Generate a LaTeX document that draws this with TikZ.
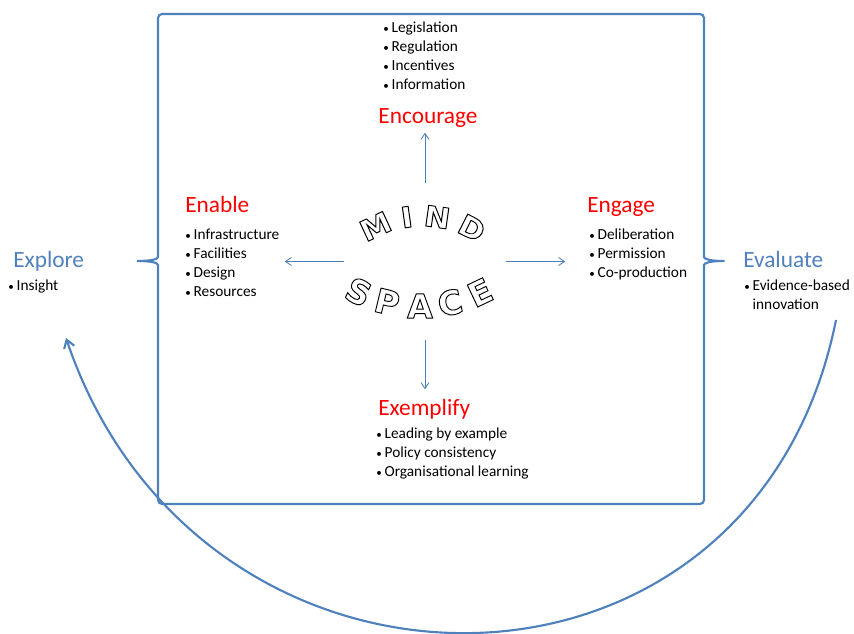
\documentclass[tikz,border=0pt]{standalone}
\usepackage{fontspec}
\setmainfont{Carlito}
\newfontfamily\wordart{DejaVu Sans}
\usetikzlibrary{arrows.meta}
\definecolor{accentblue}{HTML}{4F81BD}
\definecolor{arrowblue}{HTML}{4A7EBB}
\newcommand{\hollow}[1]{\special{pdf:literal direct 1 Tr 0.7 w}#1\special{pdf:literal direct 0 Tr}}
\newcommand{\bul}{\makebox[6.3pt][l]{\raisebox{0.6pt}{\scalebox{0.72}{\textbullet}}}}
\begin{document}
\begin{tikzpicture}[
  x=0.75pt, y=-0.75pt,
  heading/.style={anchor=base west, inner sep=0pt, font=\fontsize{17.5}{21}\selectfont, text=red},
  outer/.style={heading, text=accentblue},
  item/.style={anchor=base west, inner sep=0pt, font=\fontsize{11.5}{14}\selectfont},
  frame/.style={accentblue, line width=1.6pt},
  spoke/.style={-{Straight Barb[length=4.5pt,width=6pt]}, arrowblue, line width=0.6pt},
  loopback/.style={frame, -{Straight Barb[length=6pt,width=8pt]}},
  mindletter/.style={inner sep=0pt, font=\wordart\bfseries\fontsize{21.5}{24}\selectfont},
  spaceletter/.style={inner sep=0pt, font=\wordart\bfseries\fontsize{25}{28}\selectfont},
]
\useasboundingbox (0,0) rectangle (854,634);

% Bracket frame
\draw[frame, rounded corners=3pt] (137,261) .. controls (152,261) and (158,259) .. (158,253) -- (158,14) -- (704,14) -- (704,253)
  .. controls (704,259) and (710,261) .. (727,261) .. controls (710,261) and (704,263) .. (704,269)
  -- (704,504) -- (158,504) -- (158,269) .. controls (158,263) and (152,261) .. (137,261);

% MIND SPACE
\coordinate (mindc) at (422,326);
\coordinate (spacec) at (420,166);
\foreach \l/\a/\r in {M/-115/25, I/-98/8, N/-82/-8, D/-63/-27}
  \node[mindletter, rotate=\r] (mind\l) at ([shift={(\a:110)}]mindc) {\scalebox{1.08}[1]{\hollow{\l}}};
\foreach \l/\a/\r in {S/116/-26, P/103.6/-13.6, A/90/0, C/77.6/12.4, E/64.6/25.4}
  \node[spaceletter, rotate=\r] (space\l) at ([shift={(\a:140)}]spacec) {\hollow{\l}};
\node[minimum width=121.5pt, minimum height=117.75pt] (mindspace) at (425,261.5) {};

% Encourage
\node[heading, anchor=base] (encourage) at (428,124) {Encourage};
\foreach \txt [count=\i] in {Legislation, Regulation, Incentives, Information}
  \node[item] (enc\i) at (383,14+19*\i) {\bul\txt};

% Enable
\node[heading] (enable) at (185,213) {Enable};
\foreach \txt [count=\i] in {Infrastructure, Facilities, Design, Resources}
  \node[item] (ena\i) at (185,221+19*\i) {\bul\txt};

% Engage
\node[heading] (engage) at (587,213) {Engage};
\foreach \txt [count=\i] in {Deliberation, Permission, Co-production}
  \node[item] (eng\i) at (589,221+19*\i) {\bul\txt};

% Exemplify
\node[heading] (exemplify) at (378,416) {Exemplify};
\foreach \txt [count=\i] in {Leading by example, Policy consistency, Organisational learning}
  \node[item] (exe\i) at (376,420+19*\i) {\bul\txt};

% Explore and Evaluate
\node[outer] (explore) at (13,268) {Explore};
\node[item] (expl1) at (8,291) {\bul Insight};
\node[outer] (evaluate) at (743,268) {Evaluate};
\node[item] (eval1) at (744,291) {\bul Evidence-based};
\node[item] (eval2) at (744,310) {\phantom{\bul}innovation};

% Spokes
\draw[spoke] (mindspace.north) -- ++(0,-50);
\draw[spoke] (mindspace.south) -- ++(0,49);
\draw[spoke] (mindspace.west) -- ++(-59,0);
\draw[spoke] (mindspace.east) -- ++(59,0);

% Loop back from Evaluate to Explore
\coordinate (evalfoot) at (836,320);
\coordinate (explfoot) at (66,338);
\draw[loopback] (evalfoot) .. controls (753,734) and (200,734) .. (explfoot);
\end{tikzpicture}
\end{document}
